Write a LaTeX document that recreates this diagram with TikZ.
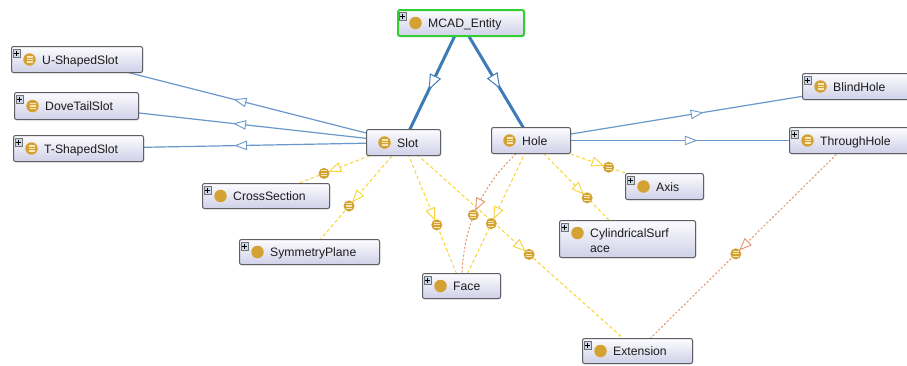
\documentclass[tikz,border=0pt]{standalone}
\usepackage{fontspec}
\setmainfont{Liberation Sans}
\usetikzlibrary{calc,decorations.markings,backgrounds,shadows}
\definecolor{gold}{RGB}{212,162,50}
\definecolor{goldline}{RGB}{246,230,185}
\definecolor{boxtop}{RGB}{252,252,255}
\definecolor{boxbot}{RGB}{208,208,232}
\definecolor{boxdraw}{RGB}{95,95,102}
\definecolor{isablue}{RGB}{62,124,184}
\definecolor{thinblue}{RGB}{105,152,205}
\definecolor{dyellow}{RGB}{248,212,55}
\definecolor{dorange}{RGB}{226,148,104}
\definecolor{selgreen}{RGB}{52,206,52}
\definecolor{plusfill}{RGB}{205,216,232}
\definecolor{txt}{RGB}{28,28,28}
\tikzset{
  clsbox/.style={rectangle, rounded corners=2pt, draw=boxdraw, line width=1pt,
    top color=boxtop, bottom color=boxbot, inner sep=0pt, anchor=north west,
    drop shadow={shadow xshift=0.8pt, shadow yshift=-0.8pt, opacity=0.25}},
  clsicon/.style={circle, fill=gold, inner sep=0pt, minimum size=12.5pt},
  defsicon/.style={clsicon, path picture={
    \foreach \k in {-2.5,0,2.5}{\draw[goldline, line width=1.1pt]
      ($(path picture bounding box.center)+(-3,\k)$) -- ++(6,0);}}},
  edgeicon/.style={defsicon, minimum size=11pt},
  plusbox/.style={rectangle, fill=plusfill, draw=black!55, line width=0.5pt,
    inner sep=0pt, minimum width=7.5pt, minimum height=7.5pt, path picture={
    \draw[black, line width=0.8pt]
      ($(path picture bounding box.center)+(-2.5,0)$) -- ++(5,0)
      ($(path picture bounding box.center)+(0,-2.5)$) -- ++(0,5);}},
  lbl/.style={inner sep=0pt, text=txt, font=\fontsize{12.2}{15}\selectfont},
  isa/.style={draw=isablue, line width=3pt, postaction={decorate},
    decoration={markings, mark=at position 0.5 with {
      \draw[solid, draw=isablue, line width=1pt, fill=white]
        (7,0) -- (-7,5.5) -- (-7,-5.5) -- cycle;}}},
  subedge/.style={draw=thinblue, line width=1.2pt, postaction={decorate},
    decoration={markings, mark=at position 0.5 with {
      \draw[solid, draw=thinblue, line width=0.9pt, fill=white]
        (5.5,0) -- (-5.5,4.2) -- (-5.5,-4.2) -- cycle;}}},
  propedge/.style n args={3}{draw=#1, line width=1pt, dash pattern=#3,
    postaction={decorate},
    decoration={markings, mark=at position 0.5 with {
      \draw[solid, draw=#1, line width=0.9pt, fill=white]
        (5.5,0) -- (-5.5,4.5) -- (-5.5,-4.5) -- cycle;
      \coordinate (#2) at (11.5,0);}}},
  yprop/.style={propedge={dyellow}{#1}{on 3.5pt off 2.5pt}},
  oprop/.style={propedge={dorange}{#1}{on 2pt off 2pt}},
}
% #1 extra box options, #2 name, #3 x, #4 y, #5 w, #6 h, #7 icon style, #8 text
\newcommand\classbox[8][]{%
  \node[clsbox, minimum width=#5pt, minimum height=#6pt, #1] (#2) at (#3,#4) {};
  \node[#7] (#2-icon) at ($(#2.west)+(18.5,0)$) {};
  \node[lbl, anchor=base west] (#2-label) at ($(#2.west)+(31,4.5)$) {#8};
}
\newcommand\plusmark[1]{%
  \node[plusbox] (#1-plus) at ($(#1.north west)+(5.5,7)$) {};
}
\begin{document}
\begin{tikzpicture}[x=1pt, y=-1pt]
\clip (0,0) rectangle (907,365);
% classes
\classbox[draw=selgreen, line width=2pt]{MCAD}{397}{9}{126}{26}{clsicon}{MCAD\_Entity}
\plusmark{MCAD}
\classbox{Slot}{366}{129}{74}{26}{defsicon}{Slot}
\classbox{Hole}{491}{127}{79}{26}{defsicon}{Hole}
\classbox{USlot}{11}{46}{131}{26}{defsicon}{U-ShapedSlot}
\plusmark{USlot}
\classbox{DSlot}{14}{92}{124}{27}{defsicon}{DoveTailSlot}
\plusmark{DSlot}
\classbox{TSlot}{13}{135}{130}{26}{defsicon}{T-ShapedSlot}
\plusmark{TSlot}
\classbox{Cross}{202}{183}{127}{25}{clsicon}{CrossSection}
\plusmark{Cross}
\classbox{SymP}{239}{239}{140}{25}{clsicon}{SymmetryPlane}
\plusmark{SymP}
\classbox{Face}{422}{273}{78}{25}{clsicon}{Face}
\plusmark{Face}
\classbox{Axis}{625}{173}{78}{26}{clsicon}{Axis}
\plusmark{Axis}
\classbox{Ext}{582}{338}{110}{25}{clsicon}{Extension}
\plusmark{Ext}
\classbox{Blind}{802}{73}{120}{26}{defsicon}{BlindHole}
\plusmark{Blind}
\classbox{Through}{789}{127}{122}{26}{defsicon}{ThroughHole}
\plusmark{Through}
\node[clsbox, minimum width=136pt, minimum height=37pt] (Cyl) at (559,220) {};
\node[clsicon] (Cyl-icon) at ($(Cyl.north west)+(18.5,13)$) {};
\node[lbl, anchor=north west, align=left] (Cyl-label) at ($(Cyl.north west)+(31,8)$) {CylindricalSurf\\ace};
\plusmark{Cyl}
% connectors
\begin{pgfonlayer}{background}
\fill[white] (0,0) rectangle (907,365);
\draw[isa] (MCAD.center) -- (Slot.center);
\draw[isa] (MCAD.center) -- (Hole.center);
\draw[subedge] (Slot.center) -- (USlot.center);
\draw[subedge] (Slot.center) -- (DSlot.center);
\draw[subedge] (Slot.center) -- (TSlot.center);
\draw[subedge] (Hole.center) -- (Blind.center);
\draw[subedge] (Hole.center) -- (Through.center);
\draw[yprop=e1] (Slot.center) -- (Cross.center);
\draw[yprop=e2] (Slot.center) -- (SymP.center);
\draw[yprop=e3] (Slot.center) -- (Face.center);
\draw[yprop=e4] (Slot.center) -- (Ext.center);
\draw[yprop=e5] (Hole.center) -- (Face.center);
\draw[yprop=e6] (Hole.center) -- (Axis.center);
\draw[yprop=e7] (Hole.center) -- (Cyl.center);
\draw[oprop=e8] (Hole.center) to[bend right=25] (Face.center);
\draw[oprop=e9] (Through.center) -- (Ext.center);
\end{pgfonlayer}
\foreach \e in {e1,e2,e3,e4,e5,e6,e7,e8,e9}{\node[edgeicon] (\e-icon) at (\e) {};}
\end{tikzpicture}
\end{document}
